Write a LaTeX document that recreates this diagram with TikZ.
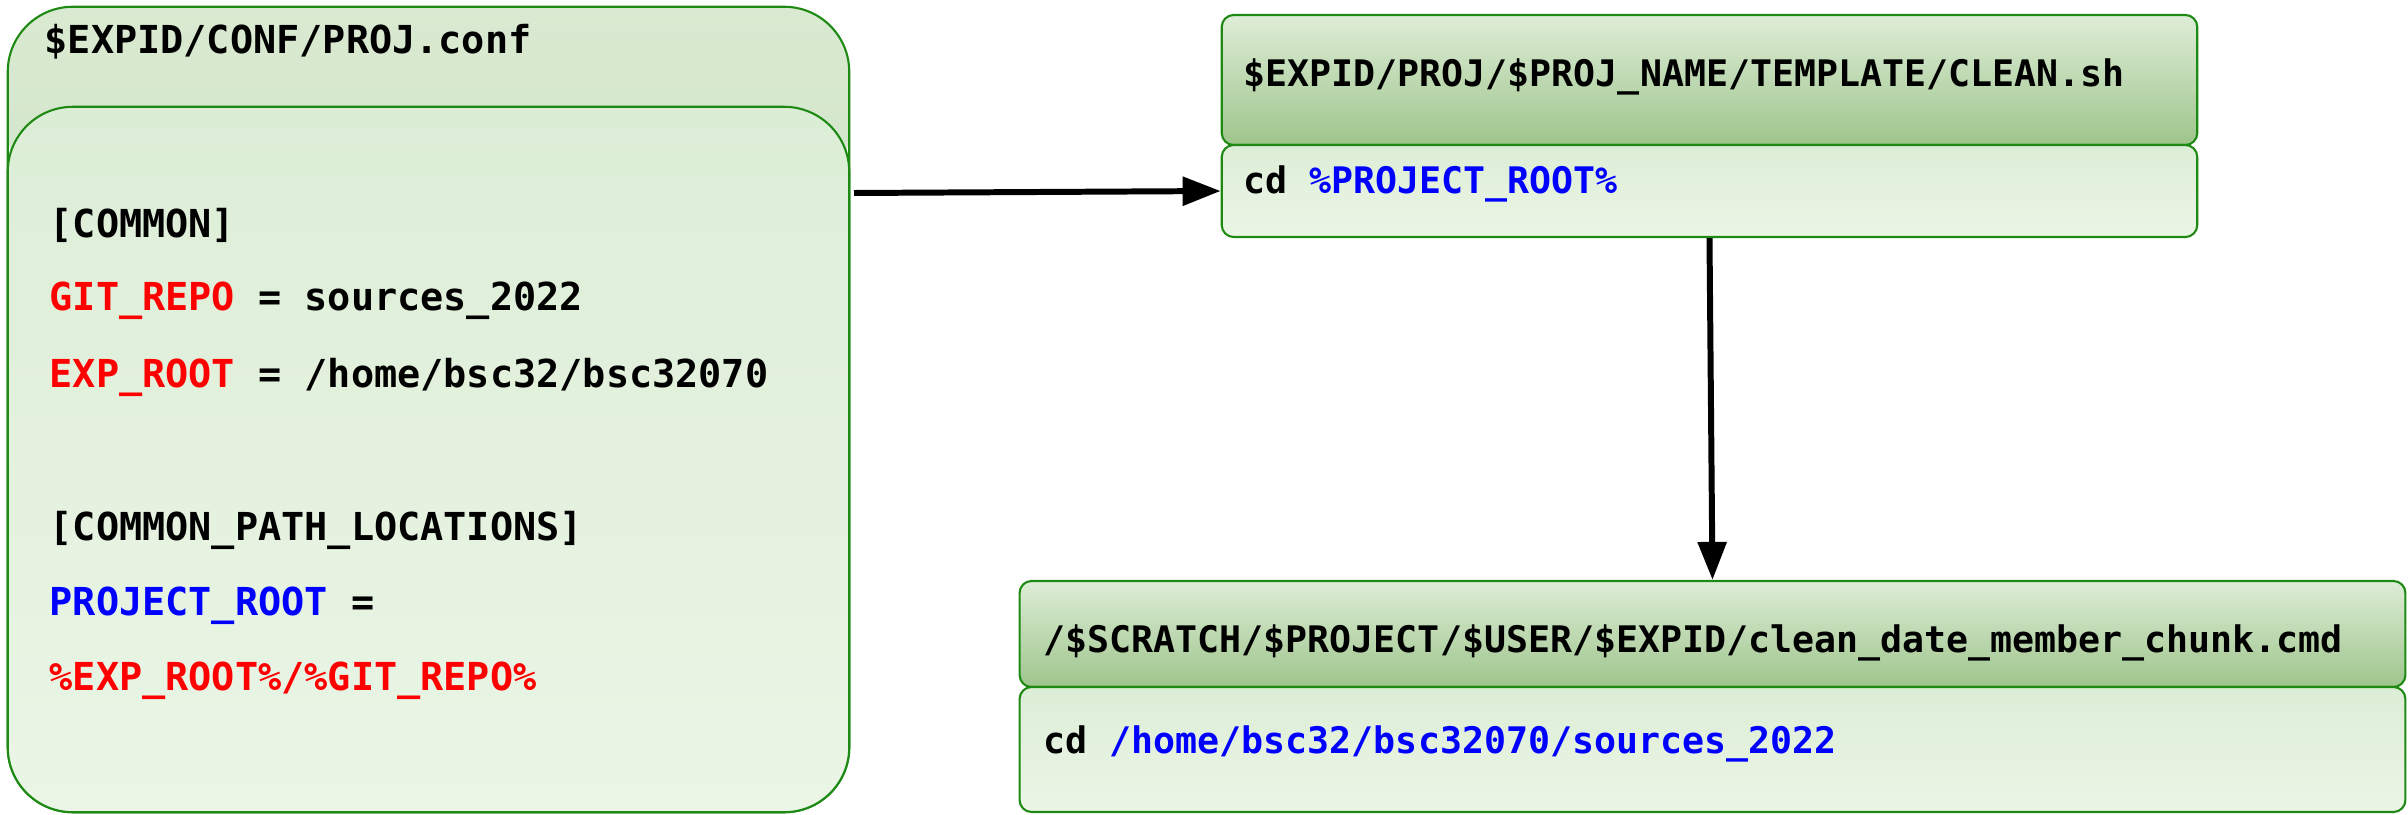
\documentclass[tikz,border=0pt]{standalone}
\usepackage{fontspec}
\setmonofont{DejaVu Sans Mono}
\usetikzlibrary{arrows.meta}
\definecolor{bordergreen}{RGB}{30,138,20}
\definecolor{hdrtop}{RGB}{222,237,215}
\definecolor{hdrbot}{RGB}{158,197,140}
\definecolor{lhdrtop}{RGB}{218,234,210}
\definecolor{lhdrbot}{RGB}{184,214,172}
\definecolor{bodytop}{RGB}{220,237,214}
\definecolor{bodybot}{RGB}{235,246,230}
\definecolor{kwred}{RGB}{255,0,0}
\definecolor{kwblue}{RGB}{0,0,255}
\begin{document}
\begin{tikzpicture}[x=0.01cm,y=-0.01cm,
  codefont/.style={font=\fontsize{10.4}{12}\selectfont\ttfamily\bfseries},
  bigcodefont/.style={font=\fontsize{10.95}{13}\selectfont\ttfamily\bfseries},
  txt/.style={codefont, anchor=base west, inner sep=0pt, text=black},
  ltxt/.style={bigcodefont, anchor=base west, inner sep=0pt, text=black},
  panel/.style={draw=bordergreen, line width=0.6pt, inner sep=0pt, rounded corners=#1},
  hdrpanel/.style={panel=0.12cm, top color=hdrtop, bottom color=hdrbot},
  bodypanel/.style={panel=#1, top color=bodytop, bottom color=bodybot},
  conn/.style={line width=1.7pt, -{Triangle[length=0.38cm,width=0.28cm]}}
]
\useasboundingbox (0,0) rectangle (2408,815);

% left box
\node[panel=0.65cm, minimum width=8.41cm, minimum height=8.05cm,
  path picture={\shade[top color=lhdrtop, bottom color=lhdrbot]
    (path picture bounding box.north west) rectangle
    ([yshift=-1.9cm]path picture bounding box.north east);}] (conf) at (428.5,409.5) {};
\node[bodypanel=0.65cm, minimum width=8.41cm, minimum height=7.05cm] (confbody) at (428.5,459.5) {};

\node[ltxt] (conftitle) at (44,53) {\$EXPID/CONF/PROJ.conf};
\node[ltxt] (l1) at (49,237) {[COMMON]};
\node[ltxt] (l2) at (49,310) {\textcolor{kwred}{GIT\_REPO} = sources\_2022};
\node[ltxt] (l3) at (49,387) {\textcolor{kwred}{EXP\_ROOT} = /home/bsc32/bsc32070};
\node[ltxt] (l4) at (49,540) {[COMMON\_PATH\_LOCATIONS]};
\node[ltxt] (l5) at (49,615) {\textcolor{kwblue}{PROJECT\_ROOT} =};
\node[ltxt] (l6) at (49,690) {\textcolor{kwred}{\%EXP\_ROOT\%/\%GIT\_REPO\%}};

% top right box
\node[hdrpanel, minimum width=9.75cm, minimum height=1.30cm] (cleanhdr) at (1709.5,80) {};
\node[bodypanel=0.12cm, minimum width=9.75cm, minimum height=0.92cm] (cleanbody) at (1709.5,191) {};
\node[txt] (cleantitle) at (1243,87) {\$EXPID/PROJ/\$PROJ\_NAME/TEMPLATE/CLEAN.sh};
\node[txt] (cleancode) at (1243,193) {cd \textcolor{kwblue}{\%PROJECT\_ROOT\%}};

% bottom right box
\node[hdrpanel, minimum width=13.85cm, minimum height=1.06cm] (cmdhdr) at (1712.5,634) {};
\node[bodypanel=0.12cm, minimum width=13.85cm, minimum height=1.25cm] (cmdbody) at (1712.5,749.5) {};
\node[txt] (cmdtitle) at (1043,652) {/\$SCRATCH/\$PROJECT/\$USER/\$EXPID/clean\_date\_member\_chunk.cmd};
\node[txt] (cmdcode) at (1043,753) {cd \textcolor{kwblue}{/home/bsc32/bsc32070/sources\_2022}};

% connectors
\coordinate (confout) at (854,193);
\draw[conn] (confout) -- (cleanbody.west);
\draw[conn] (cleanbody.south) -- (cmdhdr.north);
\end{tikzpicture}
\end{document}
